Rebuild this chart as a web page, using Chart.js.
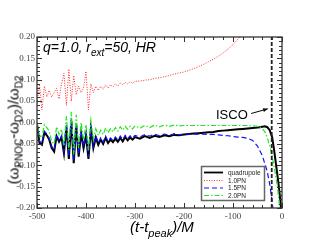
<!DOCTYPE html>
<html>
<head>
<meta charset="utf-8">
<script src="https://cdn.jsdelivr.net/npm/chart.js@4.4.1/dist/chart.umd.min.js"></script>
<style>
  body { margin: 0; background: #fff; }
  #wrap { position: relative; width: 317px; height: 245px; }
  .lbl { position: absolute; font-family: "Liberation Sans", Arial, sans-serif; white-space: nowrap; color: #000; }
  .lbl sub { line-height: 0; }
  #title { left: 43px; top: 40px; font-size: 14px; line-height: 14px; font-style: italic; }
  #title sub { font-size: 10px; vertical-align: -4px; }
  #xlab { left: 130px; top: 219px; font-size: 15px; line-height: 15px; font-style: italic; }
  #xlab sub { font-size: 11px; vertical-align: -5px; }
  #ylab { left: 13px; top: 130px; font-size: 15px; line-height: 15px; transform: translate(-50%, -50%) rotate(-90deg); }
  #ylab sub { font-size: 10px; vertical-align: -4px; }
</style>
</head>
<body>
<div id="wrap">
  <canvas id="myChart" width="317" height="245"></canvas>
  <div class="lbl" id="title">q=1.0, r<sub>ext</sub>=50, HR</div>
  <div class="lbl" id="xlab">(t-t<sub>peak</sub>)/M</div>
  <div class="lbl" id="ylab">(ω<sub>PNOC</sub>-ω<sub>D2</sub>)/ω<sub>D2</sub></div>
</div>
<script>
// Data

const tHead = [-500, -495, -490, -485, -480, -475, -470, -465, -460, -455, -450, -445, -440, -435, -430, -425, -420, -415, -410, -405,
    -400, -395, -390, -385, -380, -375, -370, -365, -360, -355, -350, -345, -340, -335, -330, -325, -320, -315, -310, -305, -300,
    -290, -280, -270, -260, -250, -240, -230, -220, -210, -200, -190, -180, -170, -160, -150, -140, -130, -120, -110, -100];

const quadHead = [-0.004, -0.048, -0.052, -0.024, -0.030, -0.040, -0.060, -0.068, -0.032, -0.045, -0.035, -0.072, -0.010, -0.085, 0.004, -0.095, -0.005, -0.080, -0.025, -0.060,
    -0.030, -0.085, -0.015, -0.060, -0.035, -0.052, -0.040, -0.050, -0.036, -0.048, -0.040, -0.046, -0.038, -0.045, -0.036, -0.044, -0.034, -0.042, -0.035, -0.040, -0.034,
    -0.038, -0.032, -0.036, -0.031, -0.034, -0.030, -0.032, -0.029, -0.030, -0.028, -0.027, -0.026, -0.025, -0.024, -0.023, -0.022, -0.020, -0.019, -0.018, -0.017];
const quadTailT = [-90, -80, -70, -60, -50, -45, -40, -35, -30, -25, -20, -16, -12, -8, -5, -2, 0];
const quadTail = [-0.016, -0.015, -0.014, -0.013, -0.012, -0.011, -0.010, -0.009, -0.011, -0.018, -0.035, -0.065, -0.100, -0.135, -0.165, -0.200, -0.230];

const pn10Head = [0.045, 0.090, 0.030, 0.085, 0.060, 0.075, 0.060, 0.070, 0.080, 0.055, 0.090, 0.115, 0.040, 0.125, 0.050, 0.110, 0.065, 0.085, 0.070, 0.080,
    0.120, 0.030, 0.090, 0.070, 0.085, 0.075, 0.085, 0.078, 0.088, 0.080, 0.088, 0.083, 0.090, 0.085, 0.092, 0.088, 0.094, 0.090, 0.095, 0.092, 0.096,
    0.097, 0.099, 0.100, 0.103, 0.105, 0.107, 0.110, 0.113, 0.116, 0.118, 0.122, 0.126, 0.131, 0.136, 0.142, 0.148, 0.155, 0.163, 0.172, 0.182];
const pn10TailT = [-90, -80];
const pn10Tail = [0.195, 0.210];

const pn15Head = [-0.002, -0.044, -0.048, -0.020, -0.027, -0.037, -0.056, -0.064, -0.028, -0.042, -0.031, -0.068, -0.004, -0.080, 0.010, -0.090, 0.000, -0.075, -0.020, -0.056,
    -0.025, -0.080, -0.010, -0.056, -0.031, -0.048, -0.036, -0.046, -0.032, -0.044, -0.036, -0.042, -0.034, -0.041, -0.032, -0.040, -0.030, -0.038, -0.031, -0.036, -0.030,
    -0.034, -0.028, -0.032, -0.027, -0.031, -0.027, -0.030, -0.026, -0.029, -0.027, -0.027, -0.027, -0.027, -0.027, -0.028, -0.028, -0.029, -0.030, -0.031, -0.033];
const pn15TailT = [-90, -80, -70, -60, -50, -40, -30, -25, -20, -17];
const pn15Tail = [-0.034, -0.035, -0.037, -0.042, -0.055, -0.078, -0.115, -0.145, -0.185, -0.220];

const pn20Head = [0.000, -0.030, -0.035, -0.005, -0.012, -0.020, -0.045, -0.050, -0.010, -0.028, -0.015, -0.055, 0.015, -0.065, 0.025, -0.075, 0.018, -0.060, 0.000, -0.040,
    -0.005, -0.065, 0.005, -0.040, -0.015, -0.030, -0.018, -0.028, -0.013, -0.024, -0.014, -0.022, -0.012, -0.020, -0.010, -0.018, -0.009, -0.016, -0.009, -0.015, -0.008,
    -0.013, -0.007, -0.012, -0.006, -0.010, -0.006, -0.009, -0.006, -0.008, -0.007, -0.007, -0.007, -0.007, -0.007, -0.007, -0.007, -0.007, -0.007, -0.007, -0.007];
const pn20TailT = [-90, -80, -70, -60, -50, -45, -40, -35, -30, -25, -20, -15, -10, -6, -3];
const pn20Tail = [-0.007, -0.007, -0.007, -0.008, -0.009, -0.011, -0.015, -0.022, -0.035, -0.055, -0.080, -0.110, -0.145, -0.185, -0.225];

const iscoT = -21;
const xTicks = [-500, -400, -300, -200, -100, 0];
const yTicks = [-0.20, -0.15, -0.10, -0.05, 0.00, 0.05, 0.10, 0.15, 0.20];

function pts(t1, v1, t2, v2) {
    const out = [];
    t1.forEach((t, i) => out.push({ x: t, y: v1[i] }));
    t2.forEach((t, i) => out.push({ x: t, y: v2[i] }));
    return out;
}

// Legend entries
const legendItems = [
    { label: 'quadrupole', color: '#000', width: 1.8, dash: [] },
    { label: '1.0PN', color: '#ff2a2a', width: 1, dash: [1, 1.5] },
    { label: '1.5PN', color: '#1010ff', width: 1.2, dash: [5, 3] },
    { label: '2.0PN', color: '#22e622', width: 1.2, dash: [5, 2, 1.5, 2] }
];

// Frame, inward ticks, legend and ISCO note

const framePlugin = {
    id: 'frame',
    afterDatasetsDraw(chart) {
        const { ctx, chartArea: a, scales: { x, y } } = chart;
        ctx.save();
        ctx.strokeStyle = '#333';
        ctx.lineWidth = 1;
        ctx.setLineDash([]);
        ctx.beginPath();
        for (let v = -500; v <= 0; v += 20) {
            const px = Math.round(x.getPixelForValue(v)) + 0.5;
            const len = v % 100 === 0 ? 5 : 3;
            ctx.moveTo(px, a.bottom); ctx.lineTo(px, a.bottom - len);
            ctx.moveTo(px, a.top); ctx.lineTo(px, a.top + len);
        }
        for (let k = -20; k <= 20; k++) {
            const py = Math.round(y.getPixelForValue(k / 100)) + 0.5;
            const len = k % 5 === 0 ? 5 : 3;
            ctx.moveTo(a.left, py); ctx.lineTo(a.left + len, py);
            ctx.moveTo(a.right, py); ctx.lineTo(a.right - len, py);
        }
        ctx.stroke();
        ctx.lineWidth = 1.3;
        ctx.strokeRect(a.left, a.top, a.right - a.left, a.bottom - a.top);

        // legend box
        ctx.fillStyle = '#fff';
        ctx.fillRect(201.5, 166.5, 63, 34);
        ctx.strokeStyle = '#666';
        ctx.lineWidth = 1.5;
        ctx.strokeRect(201.5, 166.5, 63, 34);
        const rows = [172.5, 180.5, 188, 195.5];
        ctx.font = '6.5px "Liberation Sans", Arial, sans-serif';
        ctx.textBaseline = 'middle';
        legendItems.forEach((it, i) => {
            ctx.strokeStyle = it.color;
            ctx.lineWidth = it.width;
            ctx.setLineDash(it.dash);
            ctx.beginPath();
            ctx.moveTo(204, rows[i]); ctx.lineTo(223, rows[i]);
            ctx.stroke();
            ctx.fillStyle = '#222';
            ctx.fillText(it.label, 228, rows[i] + 0.5);
        });
        ctx.setLineDash([]);

        // ISCO note with arrow
        ctx.fillStyle = '#000';
        ctx.font = '13px "Liberation Sans", Arial, sans-serif';
        ctx.fillText('ISCO', 216, 115);
        const x0 = x.getPixelForValue(-63), y0 = y.getPixelForValue(0.021);
        const x1 = x.getPixelForValue(-29), y1 = y.getPixelForValue(0.032);
        ctx.strokeStyle = '#000';
        ctx.lineWidth = 1;
        ctx.beginPath();
        ctx.moveTo(x0, y0); ctx.lineTo(x1, y1);
        ctx.stroke();
        const ang = Math.atan2(y1 - y0, x1 - x0);
        ctx.beginPath();
        ctx.moveTo(x1, y1);
        ctx.lineTo(x1 - 5 * Math.cos(ang - 0.4), y1 - 5 * Math.sin(ang - 0.4));
        ctx.lineTo(x1 - 5 * Math.cos(ang + 0.4), y1 - 5 * Math.sin(ang + 0.4));
        ctx.closePath();
        ctx.fill();
        ctx.restore();
    }
};

// Chart

const ctx = document.getElementById('myChart').getContext('2d');

new Chart(ctx, {
    type: 'scatter',
    data: {
        datasets: [
            {
                label: 'quadrupole',
                data: pts(tHead, quadHead, quadTailT, quadTail),
                borderColor: '#000', borderWidth: 2, order: 5
            },
            {
                label: '1.0PN',
                data: pts(tHead, pn10Head, pn10TailT, pn10Tail),
                borderColor: '#ff2a2a', borderWidth: 1, borderDash: [1, 1.5], order: 4
            },
            {
                label: '1.5PN',
                data: pts(tHead, pn15Head, pn15TailT, pn15Tail),
                borderColor: '#1010ff', borderWidth: 1.2, borderDash: [5, 3], order: 3
            },
            {
                label: '2.0PN',
                data: pts(tHead, pn20Head, pn20TailT, pn20Tail),
                borderColor: '#22e622', borderWidth: 1.2, borderDash: [5, 2, 1.5, 2], order: 2
            },
            {
                label: 'ISCO',
                data: [{ x: iscoT, y: -0.2 }, { x: iscoT, y: 0.2 }],
                borderColor: '#222', borderWidth: 1.8, borderDash: [4, 2], order: 1
            }
        ]
    },
    options: {
        responsive: false,
        animation: false,
        devicePixelRatio: 1,
        showLine: true,
        elements: { point: { radius: 0 }, line: { tension: 0, fill: false } },
        layout: { padding: { left: 0, top: 37, right: 35, bottom: 0 } },
        plugins: { legend: { display: false }, tooltip: { enabled: false } },
        scales: {
            x: {
                type: 'linear', min: -500, max: 0,
                afterBuildTicks(s) { s.ticks = xTicks.map(v => ({ value: v })); },
                ticks: {
                    autoSkip: false, maxRotation: 0, padding: 3, color: '#444',
                    font: { family: '"Liberation Serif", "Times New Roman", serif', size: 9 },
                    callback: v => String(v)
                },
                grid: { display: false, drawTicks: false },
                border: { display: false },
                afterFit(s) { s.height = 37; }
            },
            y: {
                min: -0.2, max: 0.2,
                afterBuildTicks(s) { s.ticks = yTicks.map(v => ({ value: v })); },
                ticks: {
                    autoSkip: false, padding: 2, color: '#444',
                    font: { family: '"Liberation Serif", "Times New Roman", serif', size: 9 },
                    callback: v => v.toFixed(2)
                },
                grid: { display: false, drawTicks: false },
                border: { display: false },
                afterFit(s) { s.width = 37; }
            }
        }
    },
    plugins: [framePlugin]
});
</script>
</body>
</html>
